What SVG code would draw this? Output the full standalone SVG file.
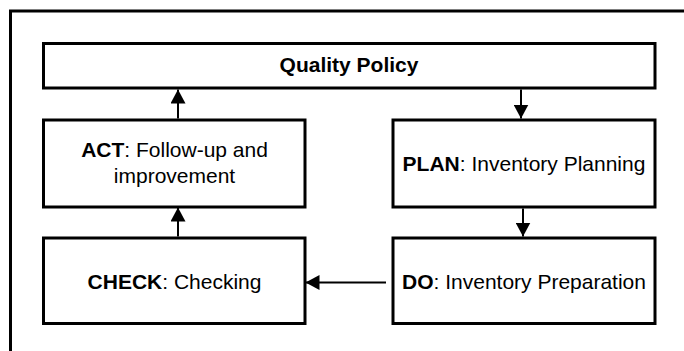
<svg xmlns="http://www.w3.org/2000/svg" width="684" height="351" viewBox="0 0 684 351">
  <style>
    .box { fill: #ffffff; stroke: #000000; stroke-width: 3; }
    .frame { fill: none; stroke: #000000; stroke-width: 3; }
    .link { fill: none; stroke: #000000; stroke-width: 2; marker-end: url(#head); }
    .label { font-family: "Liberation Sans", Arial, sans-serif; font-size: 21px; fill: #000000; text-anchor: middle; }
    .b { font-weight: bold; }
  </style>
  <defs>
    <marker id="head" viewBox="0 0 14 15" refX="14" refY="7.5" markerWidth="14" markerHeight="15" markerUnits="userSpaceOnUse" orient="auto">
      <path d="M0 0 L14 7.5 L0 15 Z" fill="#000000"/>
    </marker>
  </defs>

  <rect width="684" height="351" fill="#ffffff"/>

  <!-- surrounding frame, running off the right and bottom edges -->
  <rect class="frame" x="10.5" y="11" width="720" height="400"/>

  <g id="quality-policy">
    <rect class="box" x="43.5" y="43.5" width="611.5" height="44.5"/>
    <text class="label b" x="349" y="72">Quality Policy</text>
  </g>

  <g id="act">
    <rect class="box" x="43.5" y="120" width="261.5" height="87"/>
    <text class="label" x="174.5" y="157"><tspan class="b">ACT</tspan>: Follow-up and</text>
    <text class="label" x="174.5" y="183">improvement</text>
  </g>

  <g id="plan">
    <rect class="box" x="393" y="120" width="262" height="87"/>
    <text class="label" x="524" y="171"><tspan class="b">PLAN</tspan>: Inventory Planning</text>
  </g>

  <g id="check">
    <rect class="box" x="43.5" y="238" width="261.5" height="85.5"/>
    <text class="label" x="174.5" y="289"><tspan class="b">CHECK</tspan>: Checking</text>
  </g>

  <g id="do">
    <rect class="box" x="393" y="238" width="262" height="85.5"/>
    <text class="label" x="524" y="289"><tspan class="b">DO</tspan>: Inventory Preparation</text>
  </g>

  <g id="connectors">
    <path class="link" d="M178 118.5 L178 89.5"/>
    <path class="link" d="M178 236.5 L178 207.5"/>
    <path class="link" d="M521 89.5 L521 118.5"/>
    <path class="link" d="M523 208.5 L523 236.5"/>
    <path class="link" d="M386 282.5 L305.5 282.5"/>
  </g>
</svg>
